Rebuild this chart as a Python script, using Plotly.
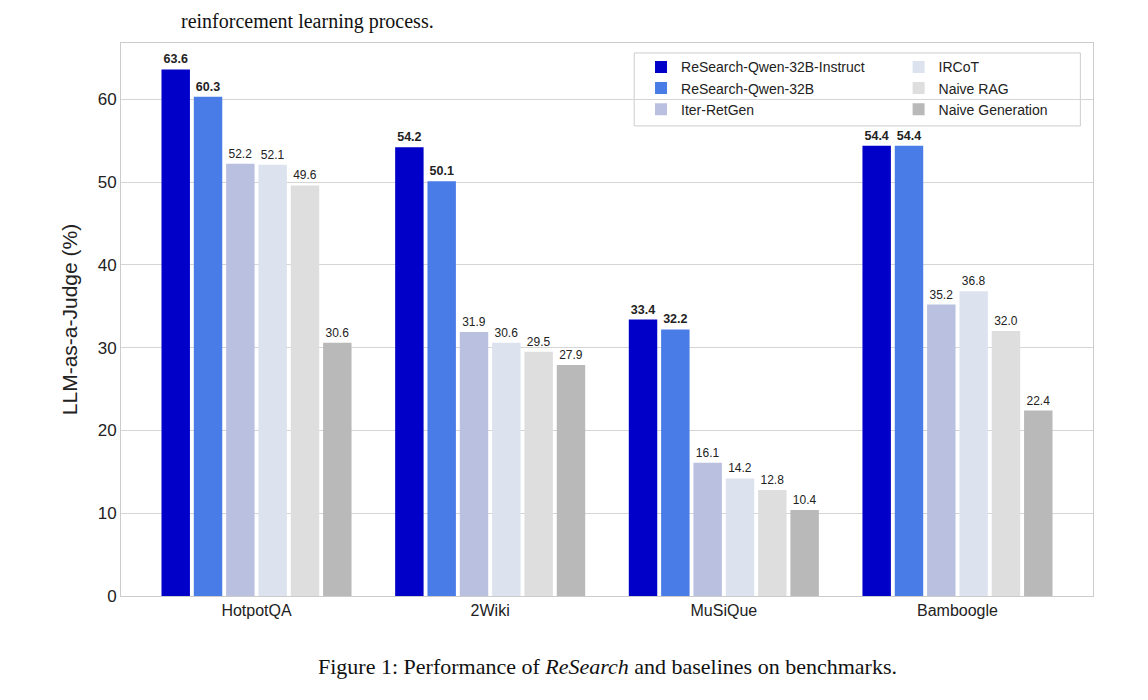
import plotly.graph_objects as go

categories = ["HotpotQA", "2Wiki", "MuSiQue", "Bamboogle"]
series = ["ReSearch-Qwen-32B-Instruct", "ReSearch-Qwen-32B", "Iter-RetGen", "IRCoT", "Naive RAG", "Naive Generation"]
values = [
    [63.6, 54.2, 33.4, 54.4],
    [60.3, 50.1, 32.2, 54.4],
    [52.2, 31.9, 16.1, 35.2],
    [52.1, 30.6, 14.2, 36.8],
    [49.6, 29.5, 12.8, 32.0],
    [30.6, 27.9, 10.4, 22.4],
]
colors = ["#0000c8", "#4a7ce8", "#b9c0e0", "#dce3ef", "#dedede", "#b9b9b9"]
bold = [True, True, False, False, False, False]

fig = go.Figure()
for i, (name, vals) in enumerate(zip(series, values)):
    txt = [f"<b>{v:.1f}</b>" if bold[i] else f"{v:.1f}" for v in vals]
    fig.add_trace(go.Bar(
        x=list(range(len(categories))), y=vals, name=name, marker_color=colors[i],
        marker_line_width=0, text=txt, textposition="outside", cliponaxis=False,
        textfont=dict(size=12.5 if bold[i] else 12, color="#222"),
        legend="legend" if i < 3 else "legend2",
    ))

fig.update_layout(
    width=1148, height=700, paper_bgcolor="white", plot_bgcolor="white",
    margin=dict(l=113, r=63, t=35, b=112),
    barmode="group", bargap=0.17, bargroupgap=0.12,
    font=dict(family="Liberation Sans, Arial", color="#222"),
    showlegend=True,
    legend=dict(x=0.535, y=0.985, xanchor="left", yanchor="top", bgcolor="rgba(0,0,0,0)",
                font=dict(size=14), tracegroupgap=0, itemwidth=30),
    legend2=dict(x=0.8, y=0.985, xanchor="left", yanchor="top", bgcolor="rgba(0,0,0,0)",
                 font=dict(size=14), tracegroupgap=0, itemwidth=30),
    xaxis=dict(range=[-0.58, 3.58], tickvals=list(range(4)), ticktext=categories,
               tickfont=dict(size=16), showgrid=False, showline=True, mirror=True,
               linecolor="#cccccc", linewidth=1, ticks=""),
    yaxis=dict(range=[0, 66.8], tickvals=[0, 10, 20, 30, 40, 50, 60], tickfont=dict(size=17),
               gridcolor="#d5d5d5", showline=True, mirror=True, linecolor="#cccccc",
               linewidth=1, zeroline=False,
               title=dict(text="LLM-as-a-Judge (%)", font=dict(size=21), standoff=14)),
    shapes=[dict(type="rect", xref="paper", yref="paper", x0=0.528, x1=0.987, y0=0.85, y1=0.982,
                 line=dict(color="#cccccc", width=1), fillcolor="rgba(255,255,255,0.8)", layer="below")],
    annotations=[
        dict(text="Figure 1: Performance of <i>ReSearch</i> and baselines on benchmarks.",
             xref="paper", yref="paper", x=0.5, y=-0.127, showarrow=False, yanchor="middle",
             font=dict(family="Liberation Serif, Times New Roman", size=22, color="#111")),
        dict(text="reinforcement learning process.", xref="paper", yref="paper", x=0.06, y=1.063,
             xanchor="left", yanchor="top", showarrow=False,
             font=dict(family="Liberation Serif, Times New Roman", size=20, color="#111")),
    ],
)
fig.write_html("out.html")
